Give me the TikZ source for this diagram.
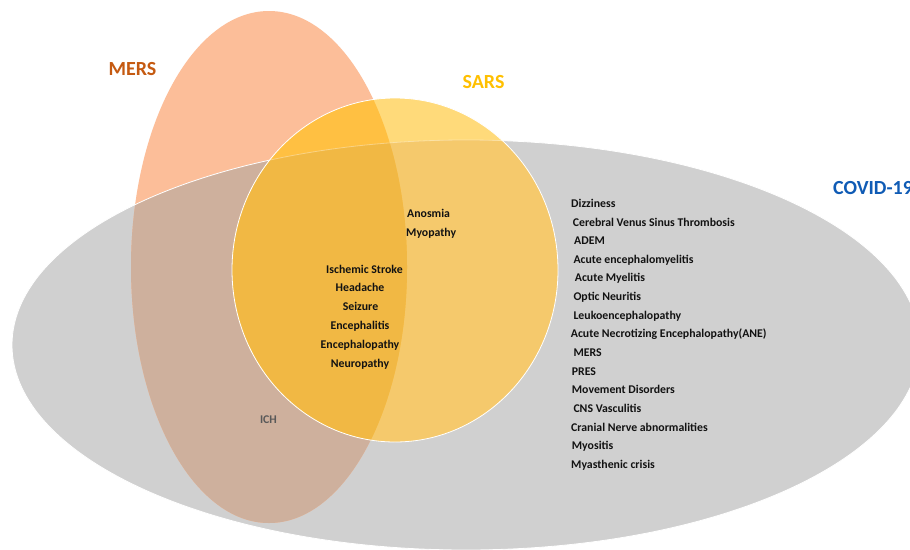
\documentclass[tikz,border=0pt]{standalone}
\usepackage{fontspec}
\setmainfont{Carlito}
\definecolor{cG}{HTML}{D0D0D0}
\definecolor{cM}{HTML}{FCBE99}
\definecolor{cMG}{HTML}{CEB09D}
\definecolor{cS}{HTML}{FFDA7A}
\definecolor{cSG}{HTML}{F5C96C}
\definecolor{cMS}{HTML}{FFC042}
\definecolor{cMSG}{HTML}{F1B844}
\definecolor{txt}{HTML}{121212}
\definecolor{mersc}{HTML}{C55A11}
\definecolor{sarsc}{HTML}{FFC000}
\definecolor{covc}{HTML}{0F5BB5}
\definecolor{ichc}{HTML}{595959}
\begin{document}
\begin{tikzpicture}[x=1pt,y=-1pt,
  item/.style={font=\bfseries\fontsize{11.8}{13}\selectfont, text=txt, inner sep=0pt},
  ttl/.style={font=\bfseries\fontsize{20}{24}\selectfont, inner sep=0pt}]
\clip (0,0) rectangle (910,549);
\fill[white] (0,0) rectangle (910,549);
\def\Gpath{(466,345) ellipse [x radius=454, y radius=205]}
\def\Mpath{(269,267) ellipse [x radius=138, y radius=256]}
\def\Spath{(395,270) ellipse [x radius=163, y radius=172]}
% base fills
\fill[cG] \Gpath;
\fill[cM] \Mpath;
\begin{scope}\clip \Mpath; \fill[cMG] \Gpath;\end{scope}
\draw[white, line width=0.8pt] \Gpath;
\fill[cS] \Spath;
\begin{scope}\clip \Spath; \fill[cSG] \Gpath;\end{scope}
\begin{scope}\clip \Spath; \fill[cMS] \Mpath;\end{scope}
\begin{scope}\clip \Spath; \clip \Mpath; \fill[cMSG] \Gpath;\end{scope}
\begin{scope}\clip \Spath; \draw[white, opacity=0.35, line width=0.8pt] \Gpath;\end{scope}
\draw[white, line width=0.8pt] \Spath;
% titles
\node[ttl, text=mersc, anchor=base] (tmers) at (132.5,75) {MERS};
\node[ttl, text=sarsc, anchor=base] (tsars) at (483.5,88) {SARS};
\node[ttl, text=covc, anchor=base west] (tcov) at (833,194) {COVID-19};
% SARS-COVID
\node[item, anchor=base west] (anos) at (407,217.3) {Anosmia};
\node[item, anchor=base west] (myop) at (406,236) {Myopathy};
% all three
\node[item, anchor=base] (isch) at (364.5,273) {Ischemic Stroke};
\node[item, anchor=base] (head) at (360,291.8) {Headache};
\node[item, anchor=base] (seiz) at (360.5,310.6) {Seizure};
\node[item, anchor=base] (encl) at (360,329.4) {Encephalitis};
\node[item, anchor=base] (encp) at (360,348.2) {Encephalopathy};
\node[item, anchor=base] (neur) at (360,367) {Neuropathy};
% MERS-COVID
\node[item, text=ichc, anchor=base] (ich) at (268.5,423) {ICH};
% COVID only
\node[item, anchor=base west] (c1) at (571,207.3) {Dizziness};
\node[item, anchor=base west] (c2) at (572.7,226) {Cerebral Venus Sinus Thrombosis};
\node[item, anchor=base west] (c3) at (574,244.6) {ADEM};
\node[item, anchor=base west] (c4) at (573.3,263.3) {Acute encephalomyelitis};
\node[item, anchor=base west] (c5) at (574.7,281.9) {Acute Myelitis};
\node[item, anchor=base west] (c6) at (573.3,300.6) {Optic Neuritis};
\node[item, anchor=base west] (c7) at (573.3,319.2) {Leukoencephalopathy};
\node[item, anchor=base west] (c8) at (570.7,337.9) {Acute Necrotizing Encephalopathy(ANE)};
\node[item, anchor=base west] (c9) at (573.3,356.5) {MERS};
\node[item, anchor=base west] (c10) at (571.7,375.2) {PRES};
\node[item, anchor=base west] (c11) at (571.7,393.8) {Movement Disorders};
\node[item, anchor=base west] (c12) at (573.3,412.5) {CNS Vasculitis};
\node[item, anchor=base west] (c13) at (571,431.1) {Cranial Nerve abnormalities};
\node[item, anchor=base west] (c14) at (571.7,449.8) {Myositis};
\node[item, anchor=base west] (c15) at (571,468.4) {Myasthenic crisis};
\end{tikzpicture}
\end{document}
